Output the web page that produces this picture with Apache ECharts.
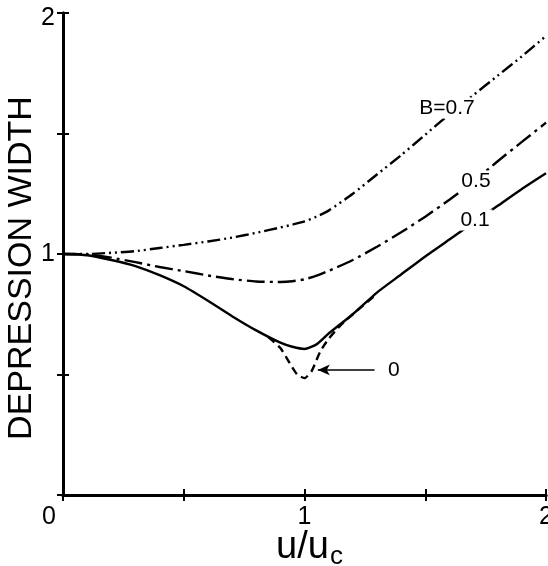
<!DOCTYPE html>
<html>
<head>
<meta charset="utf-8">
<script src="https://cdn.jsdelivr.net/npm/echarts@6/dist/echarts.min.js"></script>
<style>
  html, body { margin: 0; padding: 0; background: #fff; }
  #chart { width: 548px; height: 566px; }
</style>
</head>
<body>
<div id="chart"></div>
<script>
// Normalised velocity u/uc shared by the B = 0.7, 0.5 and 0.1 curves
const uGrid = [0, 0.1, 0.2, 0.3, 0.4, 0.5, 0.6, 0.7, 0.8, 0.9, 0.95, 1.0, 1.05, 1.1, 1.2, 1.3, 1.4, 1.5, 1.6, 1.7, 1.8, 1.9, 2.0];
// Depression width for each B
const widthB07 = [1.0, 1.0, 1.005, 1.012, 1.025, 1.038, 1.052, 1.068, 1.088, 1.11, 1.122, 1.135, 1.155, 1.18, 1.25, 1.33, 1.41, 1.495, 1.58, 1.66, 1.74, 1.82, 1.905];
const widthB05 = [1.0, 0.998, 0.985, 0.966, 0.946, 0.929, 0.911, 0.896, 0.886, 0.884, 0.887, 0.895, 0.91, 0.93, 0.975, 1.03, 1.09, 1.155, 1.225, 1.3, 1.385, 1.465, 1.545];
const widthB01 = [1.0, 0.995, 0.975, 0.95, 0.912, 0.866, 0.806, 0.742, 0.683, 0.632, 0.615, 0.606, 0.625, 0.67, 0.75, 0.84, 0.915, 0.99, 1.06, 1.13, 1.2, 1.27, 1.335];
// B = 0 only departs from B = 0.1 near the critical velocity
const uB0 = [0.85, 0.9, 0.94, 0.97, 1.0, 1.03, 1.065, 1.1, 1.15, 1.2, 1.3];
const widthB0 = [0.655, 0.61, 0.545, 0.5, 0.485, 0.515, 0.595, 0.648, 0.705, 0.75, 0.835];

// Curve labels: text and anchor in data coordinates
const curveLabels = [
  { text: 'B=0.7', at: [1.59, 1.606] },
  { text: '0.5', at: [1.71, 1.303] },
  { text: '0.1', at: [1.706, 1.141] },
  { text: '0', at: [1.37, 0.519] }
];
const arrowFrom = [1.29, 0.519];
const arrowTo = [1.055, 0.519];

const xTickLabels = { 0: '0', 1: '1', 2: '2' };
const yTickLabels = { 1: '1', 2: '2' };

const FONT = 'Liberation Sans';
const zip = (xs, ys) => xs.map((x, i) => [x, ys[i]]);

function labelPoint(lbl) {
  return {
    coord: lbl.at,
    symbol: 'circle',
    symbolSize: 0,
    label: {
      show: true,
      position: 'inside',
      formatter: lbl.text,
      fontFamily: FONT,
      fontSize: 21,
      color: '#000',
      backgroundColor: '#fff',
      padding: [0, 3]
    }
  };
}

function curve(name, data, dash, labels) {
  return {
    name: name,
    type: 'line',
    data: data,
    showSymbol: false,
    smooth: 0.2,
    lineStyle: { color: '#000', width: 2.4, type: dash },
    z: 2,
    markPoint: labels ? { data: labels.map(labelPoint), z: 5, animation: false } : undefined,
    animation: false
  };
}

const chart = echarts.init(document.getElementById('chart'), null, { renderer: 'canvas' });

const axisCommon = {
  type: 'value',
  min: 0,
  max: 2,
  interval: 0.5,
  nameMoveOverlap: false,
  axisLine: { show: true, lineStyle: { color: '#000', width: 3 } },
  axisTick: { show: true, inside: true, length: 6, lineStyle: { color: '#000', width: 2 } },
  splitLine: { show: false }
};

chart.setOption({
  backgroundColor: '#fff',
  animation: false,
  grid: { left: 63, right: 2, top: 13, bottom: 71, containLabel: false, outerBoundsMode: 'none' },
  xAxis: [
    Object.assign({}, axisCommon, {
      position: 'bottom',
      name: '{a|u/u}{b|c}',
      nameLocation: 'middle',
      nameGap: 34,
      nameTextStyle: {
        padding: [0, 0, 0, 10],
        rich: {
          a: { fontFamily: FONT, fontSize: 38, color: '#000', lineHeight: 38, verticalAlign: 'top' },
          b: { fontFamily: FONT, fontSize: 26, color: '#000', lineHeight: 26, verticalAlign: 'top', padding: [15, 0, 0, 1] }
        }
      },
      axisLabel: {
        show: true,
        margin: 10,
        fontFamily: FONT,
        fontSize: 25,
        color: '#000',
        formatter: v => v === 0 ? '{z|0}' : (xTickLabels[v] !== undefined ? xTickLabels[v] : ''),
        rich: { z: { fontFamily: FONT, fontSize: 25, color: '#000', padding: [0, 28, 0, 0] } }
      }
    }),
    Object.assign({}, axisCommon, { position: 'top', axisLabel: { show: false } })
  ],
  yAxis: [
    Object.assign({}, axisCommon, {
      position: 'left',
      name: 'DEPRESSION WIDTH',
      nameLocation: 'middle',
      nameGap: 24,
      nameTextStyle: { fontFamily: FONT, fontSize: 34, color: '#000', padding: [0, 28, 0, 0] },
      axisLabel: {
        show: true,
        margin: 8,
        fontFamily: FONT,
        fontSize: 25,
        color: '#000',
        formatter: v => v === 2 ? '{t|2}' : (yTickLabels[v] !== undefined ? yTickLabels[v] : ''),
        rich: { t: { fontFamily: FONT, fontSize: 25, color: '#000', padding: [10, 0, 0, 0] } }
      }
    }),
    Object.assign({}, axisCommon, { position: 'right', axisLabel: { show: false } })
  ],
  series: [
    curve('B=0.7', zip(uGrid, widthB07), [13, 4, 2, 4, 2, 4], [curveLabels[0]]),
    curve('B=0.5', zip(uGrid, widthB05), [18, 5, 3, 5], [curveLabels[1]]),
    curve('B=0.1', zip(uGrid, widthB01), 'solid', [curveLabels[2]]),
    Object.assign(curve('B=0', zip(uB0, widthB0), [8, 5], [curveLabels[3]]), {
      markLine: {
        silent: true,
        animation: false,
        symbol: ['none', 'arrow'],
        symbolSize: [8, 12],
        label: { show: false },
        lineStyle: { color: '#000', width: 1.5, type: 'solid' },
        data: [[{ coord: arrowFrom }, { coord: arrowTo }]]
      }
    })
  ]
});
</script>
</body>
</html>
